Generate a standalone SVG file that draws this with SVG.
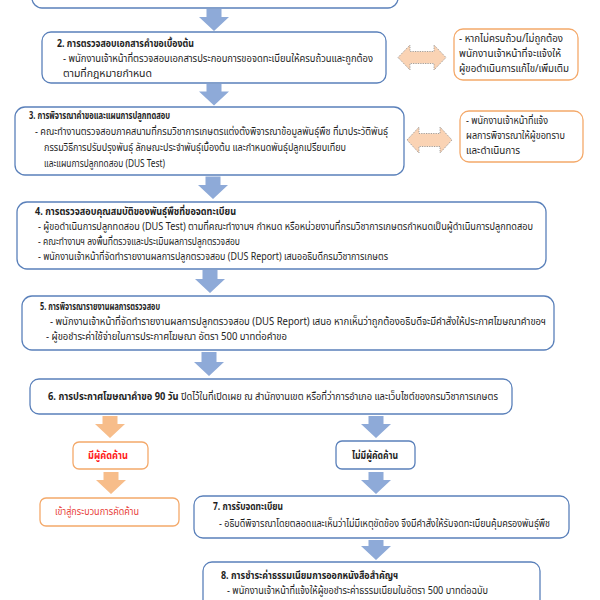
<svg xmlns="http://www.w3.org/2000/svg" width="600" height="600" viewBox="0 0 600 600">
<style>
text{font-family:"Noto Sans Thai","Leelawadee UI",Tahoma,"Loma","Garuda","Noto Sans","DejaVu Sans",sans-serif;font-size:10px;fill:#1e1e1e}
.b{font-weight:bold}
.box{fill:#fff;stroke:#5a80ba;stroke-width:1.3}
.obox{fill:#fff;stroke:#f4a96a;stroke-width:1.3}
.arr{fill:#8eaad8}
.oarr{fill:#f7bd8a}
.darr{fill:#fad3b4;stroke:#8a8a8a;stroke-width:0.8;stroke-dasharray:1.2 1.2}
.red{fill:#ff1a1a;font-weight:bold}
.red2{fill:#e8433a}
</style>
<rect width="600" height="600" fill="#fff"/>
<g id="connectors">
<path class="arr" d="M206.5,9h15v8h7.5l-15,14l-15,-14h7.5z"/>
<path class="arr" d="M206.5,84h15v7.5h7.5l-15,14l-15,-14h7.5z"/>
<path class="arr" d="M205.5,176.5h15v8.5h7.5l-15,14l-15,-14h7.5z"/>
<path class="arr" d="M202.5,270h15v9h7.5l-15,14l-15,-14h7.5z"/>
<path class="arr" d="M201.5,352h15v10h7.5l-15,14l-15,-14h7.5z"/>
<path class="oarr" d="M102.5,416h15v8h7.5l-15,14l-15,-14h7.5z"/>
<path class="arr" d="M368.5,416h15v8h7.5l-15,14l-15,-14h7.5z"/>
<path class="oarr" d="M103.5,472h15v8h7.5l-15,14l-15,-14h7.5z"/>
<path class="arr" d="M368.5,472h15v8h7.5l-15,14l-15,-14h7.5z"/>
<path class="arr" d="M368.5,540h15v6h7.5l-15,14l-15,-14h7.5z"/>
<path class="darr" d="M398,57.5l12,-12.5v6.5h24v-6.5l12,12.5l-12,12.5v-6.5h-24v6.5z"/>
<path class="darr" d="M407,140l12,-13v6.5h21v-6.5l12,13l-12,13v-6.5h-21v6.5z"/>
</g>
<g id="step1">
<rect class="box" x="32" y="-40" width="366" height="48" rx="10"/>
</g>
<g id="step2">
<rect class="box" x="42" y="32" width="344" height="51" rx="9"/>
<text class="b" x="57" y="47" textLength="137" lengthAdjust="spacingAndGlyphs">2. การตรวจสอบเอกสารคำขอเบื้องต้น</text>
<text x="63" y="62" textLength="310" lengthAdjust="spacingAndGlyphs">- พนักงานเจ้าหน้าที่ตรวจสอบเอกสารประกอบการขอจดทะเบียนให้ครบถ้วนและถูกต้อง</text>
<text x="63" y="77" textLength="89" lengthAdjust="spacingAndGlyphs">ตามที่กฎหมายกำหนด</text>
</g>
<g id="note1">
<rect class="obox" x="454" y="29" width="124" height="51" rx="9"/>
<text x="459" y="42" textLength="104" lengthAdjust="spacingAndGlyphs">- หากไม่ครบถ้วน/ไม่ถูกต้อง</text>
<text x="459" y="57" textLength="102" lengthAdjust="spacingAndGlyphs">พนักงานเจ้าหน้าที่จะแจ้งให้</text>
<text x="459" y="72" textLength="110" lengthAdjust="spacingAndGlyphs">ผู้ขอดำเนินการแก้ไข/เพิ่มเติม</text>
</g>
<g id="step3">
<rect class="box" x="15" y="107" width="389" height="68" rx="10"/>
<text class="b" x="29" y="119" textLength="141" lengthAdjust="spacingAndGlyphs">3. การพิจารณาคำขอและแผนการปลูกทดสอบ</text>
<text x="35" y="135" textLength="353" lengthAdjust="spacingAndGlyphs">- คณะทำงานตรวจสอบภาคสนามที่กรมวิชาการเกษตรแต่งตั้งพิจารณาข้อมูลพันธุ์พืช ที่มาประวัติพันธุ์</text>
<text x="44" y="151" textLength="302" lengthAdjust="spacingAndGlyphs">กรรมวิธีการปรับปรุงพันธุ์ ลักษณะประจำพันธุ์เบื้องต้น และกำหนดพันธุ์ปลูกเปรียบเทียบ</text>
<text x="44" y="167" textLength="121" lengthAdjust="spacingAndGlyphs">และแผนการปลูกทดสอบ (DUS Test)</text>
</g>
<g id="note2">
<rect class="obox" x="460" y="111" width="123" height="51" rx="9"/>
<text x="466" y="124" textLength="82" lengthAdjust="spacingAndGlyphs">- พนักงานเจ้าหน้าที่แจ้ง</text>
<text x="466" y="139" textLength="99" lengthAdjust="spacingAndGlyphs">ผลการพิจารณาให้ผู้ขอทราบ</text>
<text x="466" y="154" textLength="54" lengthAdjust="spacingAndGlyphs">และดำเนินการ</text>
</g>
<g id="step4">
<rect class="box" x="17" y="202" width="529" height="67" rx="10"/>
<text class="b" x="35" y="215" textLength="201" lengthAdjust="spacingAndGlyphs">4. การตรวจสอบคุณสมบัติของพันธุ์พืชที่ขอจดทะเบียน</text>
<text x="38" y="230" textLength="495" lengthAdjust="spacingAndGlyphs">- ผู้ขอดำเนินการปลูกทดสอบ (DUS Test) ตามที่คณะทำงานฯ กำหนด หรือหน่วยงานที่กรมวิชาการเกษตรกำหนดเป็นผู้ดำเนินการปลูกทดสอบ</text>
<text x="38" y="245" textLength="202" lengthAdjust="spacingAndGlyphs">- คณะทำงานฯ ลงพื้นที่ตรวจและประเมินผลการปลูกตรวจสอบ</text>
<text x="38" y="260" textLength="350" lengthAdjust="spacingAndGlyphs">- พนักงานเจ้าหน้าที่จัดทำรายงานผลการปลูกตรวจสอบ (DUS Report) เสนออธิบดีกรมวิชาการเกษตร</text>
</g>
<g id="step5">
<rect class="box" x="22" y="296" width="532" height="54" rx="10"/>
<text class="b" x="40" y="310" textLength="120" lengthAdjust="spacingAndGlyphs">5. การพิจารณารายงานผลการตรวจสอบ</text>
<text x="50" y="325" textLength="496" lengthAdjust="spacingAndGlyphs">- พนักงานเจ้าหน้าที่จัดทำรายงานผลการปลูกตรวจสอบ (DUS Report) เสนอ หากเห็นว่าถูกต้องอธิบดีจะมีคำสั่งให้ประกาศโฆษณาคำขอฯ</text>
<text x="46" y="340" textLength="241" lengthAdjust="spacingAndGlyphs">- ผู้ขอชำระค่าใช้จ่ายในการประกาศโฆษณา อัตรา 500 บาทต่อคำขอ</text>
</g>
<g id="step6">
<rect class="box" x="30" y="379" width="482" height="35" rx="9"/>
<text x="48" y="400" textLength="450" lengthAdjust="spacingAndGlyphs"><tspan class="b">6. การประกาศโฆษณาคำขอ 90 วัน</tspan> ปิดไว้ในที่เปิดเผย ณ สำนักงานเขต หรือที่ว่าการอำเภอ และเว็บไซต์ของกรมวิชาการเกษตร</text>
</g>
<g id="objection">
<rect class="obox" x="73" y="442" width="75" height="27" rx="6"/>
<text class="red" x="88" y="459" textLength="40" lengthAdjust="spacingAndGlyphs">มีผู้คัดค้าน</text>
</g>
<g id="no-objection">
<rect class="box" x="336" y="441" width="79" height="28" rx="6"/>
<text class="b" x="352" y="459" textLength="46" lengthAdjust="spacingAndGlyphs">ไม่มีผู้คัดค้าน</text>
</g>
<g id="objection-process">
<rect class="obox" x="40" y="498" width="139" height="28" rx="6"/>
<text class="red2" x="55" y="515" textLength="84" lengthAdjust="spacingAndGlyphs">เข้าสู่กระบวนการคัดค้าน</text>
</g>
<g id="step7">
<rect class="box" x="194" y="496" width="375" height="42" rx="9"/>
<text class="b" x="213" y="510" textLength="70" lengthAdjust="spacingAndGlyphs">7. การรับจดทะเบียน</text>
<text x="219" y="527" textLength="331" lengthAdjust="spacingAndGlyphs">- อธิบดีพิจารณาโดยตลอดและเห็นว่าไม่มีเหตุขัดข้อง จึงมีคำสั่งให้รับจดทะเบียนคุ้มครองพันธุ์พืช</text>
</g>
<g id="step8">
<rect class="box" x="203" y="562" width="337" height="60" rx="9"/>
<text class="b" x="221" y="579" textLength="177" lengthAdjust="spacingAndGlyphs">8. การชำระค่าธรรมเนียมการออกหนังสือสำคัญฯ</text>
<text x="227" y="594" textLength="261" lengthAdjust="spacingAndGlyphs">- พนักงานเจ้าหน้าที่แจ้งให้ผู้ขอชำระค่าธรรมเนียมในอัตรา 500 บาทต่อฉบับ</text>
</g>
</svg>
